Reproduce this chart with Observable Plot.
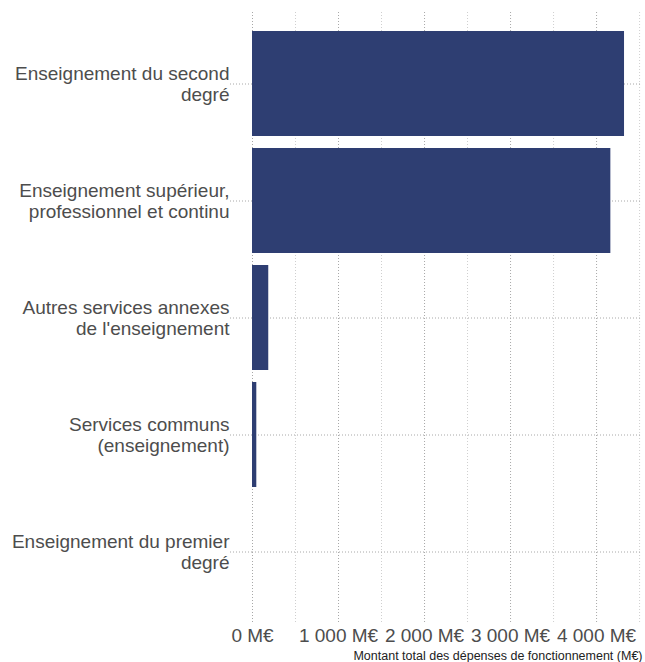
<!DOCTYPE html>
<html>
<head>
<meta charset="utf-8">
<script src="https://cdn.jsdelivr.net/npm/d3@7"></script>
<script src="https://cdn.jsdelivr.net/npm/@observablehq/plot@0.6"></script>
<style>
  html, body { margin: 0; padding: 0; background: #fff; }
</style>
</head>
<body>
<div id="chart"></div>
<script>
const categories = [
  "Enseignement du second degré",
  "Enseignement supérieur, professionnel et continu",
  "Autres services annexes de l'enseignement",
  "Services communs (enseignement)",
  "Enseignement du premier degré"
];
const categoryLabels = [
  "Enseignement du second\ndegré",
  "Enseignement supérieur,\nprofessionnel et continu",
  "Autres services annexes\nde l'enseignement",
  "Services communs\n(enseignement)",
  "Enseignement du premier\ndegré"
];
const values = [4325, 4166, 189, 50, 0];
const majorTicks = [0, 1000, 2000, 3000, 4000];
const minorTicks = [500, 1500, 2500, 3500, 4500];
const axisTitle = "Montant total des dépenses de fonctionnement (M€)";

const data = categories.map((c, i) => ({category: c, value: values[i]}));
const labelOf = new Map(categories.map((c, i) => [c, categoryLabels[i]]));
const fmt = v => d3.format(",")(v).replace(/,/g, " ") + " M€";

const chart = Plot.plot({
  width: 645,
  height: 662,
  marginLeft: 252,
  marginRight: 3,
  marginTop: 12,
  marginBottom: 38.5,
  style: {fontFamily: "'Liberation Sans', Arial, sans-serif", background: "#fff"},
  x: {domain: [0, 4534]},
  y: {domain: categories, paddingInner: 0.1, paddingOuter: 0.15},
  marks: [
    Plot.gridX(minorTicks, {stroke: "#cfcfcf", strokeOpacity: 1, strokeDasharray: "1,2"}),
    Plot.gridX(majorTicks, {stroke: "#a8a8a8", strokeOpacity: 1, strokeDasharray: "1,2"}),
    Plot.gridY(categories, {stroke: "#a8a8a8", strokeOpacity: 1, strokeDasharray: "1,2"}),
    Plot.axisY({
      tickSize: 22, tickPadding: 1,
      stroke: "#a8a8a8", strokeDasharray: "1,2",
      fill: "#4d4d4d", fontSize: 19, lineHeight: 1.12,
      tickFormat: d => labelOf.get(d), label: null
    }),
    Plot.axisX(majorTicks, {
      tickSize: 0, tickPadding: 4, fill: "#4d4d4d", fontSize: 19,
      tickFormat: fmt, label: null
    }),
    Plot.barX(data, {y: "category", x: "value", fill: "#2e3e72"}),
    Plot.text([axisTitle], {
      frameAnchor: "bottom-right", dx: 0, dy: 36, text: d => d,
      textAnchor: "end", lineAnchor: "bottom", fontSize: 12.5, fill: "#222"
    })
  ]
});
document.getElementById("chart").appendChild(chart);
</script>
</body>
</html>
